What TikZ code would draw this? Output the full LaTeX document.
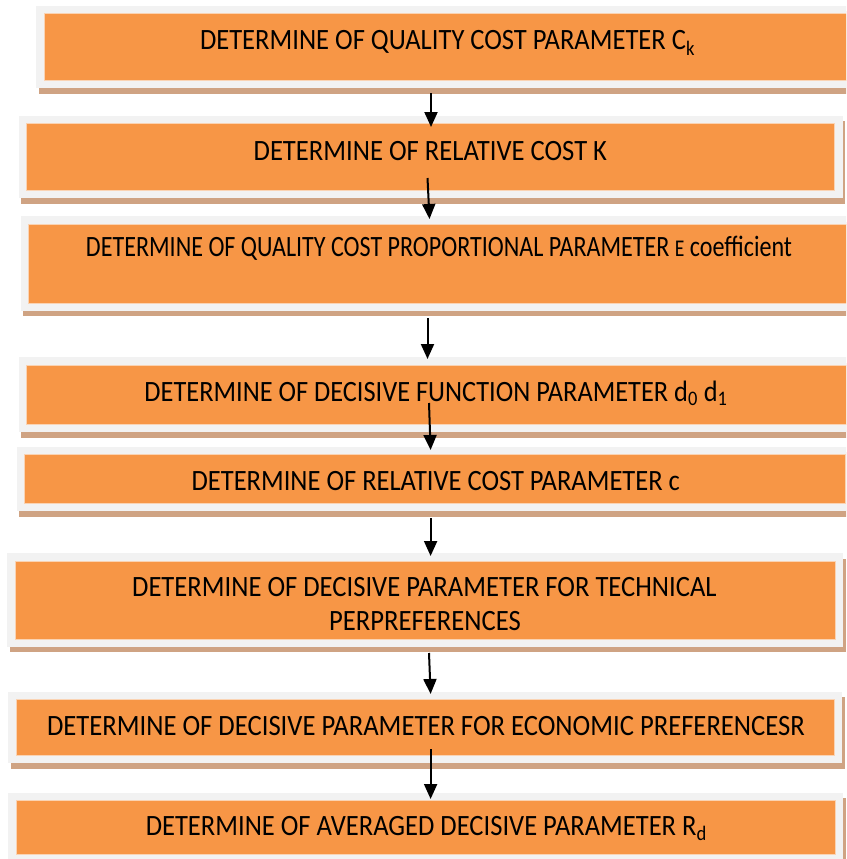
\documentclass[tikz,border=0pt]{standalone}
\usepackage{fontspec}
\setmainfont{Carlito}
\usetikzlibrary{arrows.meta}
\definecolor{boxorange}{HTML}{F79646}
\definecolor{framegray}{HTML}{F2F2F2}
\definecolor{shadowbrown}{HTML}{CFA383}
\definecolor{edgepale}{HTML}{FAD3B3}
\newcommand\fitw[2]{\resizebox{#1pt}{\height}{#2}}
% gray frame x1 y1 x2 y2 (pixel coordinates, y downwards)
\newcommand\stepbox[4]{%
  \fill[shadowbrown] ({#1+2.5},{#2+5.5}) rectangle ({#3+2.5},{#4+5.5});
  \fill[framegray] (#1,#2) rectangle (#3,#4);
  \path[fill=boxorange, draw=edgepale, line width=0.8pt] ({#1+8},{#2+8}) rectangle ({#3-8},{#4-7.5});
}
\begin{document}
\begin{tikzpicture}[x=1pt,y=-1pt,
  lbl/.style={anchor=base, inner sep=0pt, font=\fontsize{29.5}{34}\selectfont},
  flow/.style={line width=2pt, -{Triangle[length=15pt,width=13pt]}}]
\useasboundingbox (0,0) rectangle (846,859);
\clip (0,0) rectangle (846,859);

\stepbox{36}{5.7}{870}{88}
\stepbox{18.7}{115.7}{842.7}{198}
\stepbox{20.7}{216}{870}{310.7}
\stepbox{18.7}{357}{870}{432}
\stepbox{16.7}{446.7}{853}{511}
\stepbox{7}{553}{843}{646.7}
\stepbox{8.3}{691.7}{842}{763}
\stepbox{8.3}{792.7}{843}{862}

\node[lbl] (t1) at (447.5,50) {\fitw{495}{DETERMINE OF QUALITY COST PARAMETER C\textsubscript{k}}};
\node[lbl] (t2) at (430.4,160) {\fitw{353.5}{DETERMINE OF RELATIVE COST K}};
\node[lbl] (t3) at (439,256) {\fitw{706}{DETERMINE OF QUALITY COST PROPORTIONAL PARAMETER {\fontsize{24}{28}\selectfont E} coefficient}};
\node[lbl] (t4) at (436,401) {\fitw{583}{DETERMINE OF DECISIVE FUNCTION PARAMETER d\textsubscript{0} d\textsubscript{1}}};
\node[lbl] (t5) at (435.8,490) {\fitw{488.4}{DETERMINE OF RELATIVE COST PARAMETER c}};
\node[lbl] (t6a) at (424.4,596) {\fitw{584.5}{DETERMINE OF DECISIVE PARAMETER FOR TECHNICAL}};
\node[lbl] (t6b) at (425,630) {\fitw{191.6}{PERPREFERENCES}};
\node[lbl] (t7) at (426,735) {\fitw{758}{DETERMINE OF DECISIVE PARAMETER FOR ECONOMIC PREFERENCESR}};
\node[lbl] (t8) at (426.3,835) {\fitw{561}{DETERMINE OF AVERAGED DECISIVE PARAMETER R\textsubscript{d}}};

\coordinate (a1s) at (431,93);   \coordinate (a1e) at (431,127);
\coordinate (a2s) at (427.5,178); \coordinate (a2e) at (429.5,219);
\coordinate (a3s) at (427.5,318); \coordinate (a3e) at (427.5,359);
\coordinate (a4s) at (429,403);   \coordinate (a4e) at (430.6,450);
\coordinate (a5s) at (430.6,518); \coordinate (a5e) at (430.6,556);
\coordinate (a6s) at (429,653);   \coordinate (a6e) at (430.6,694);
\coordinate (a7s) at (430.6,749); \coordinate (a7e) at (430.6,799);

\draw[flow] (a1s) -- (a1e);
\draw[flow] (a2s) -- (a2e);
\draw[flow] (a3s) -- (a3e);
\draw[flow] (a4s) -- (a4e);
\draw[flow] (a5s) -- (a5e);
\draw[flow] (a6s) -- (a6e);
\draw[flow] (a7s) -- (a7e);
\end{tikzpicture}
\end{document}
